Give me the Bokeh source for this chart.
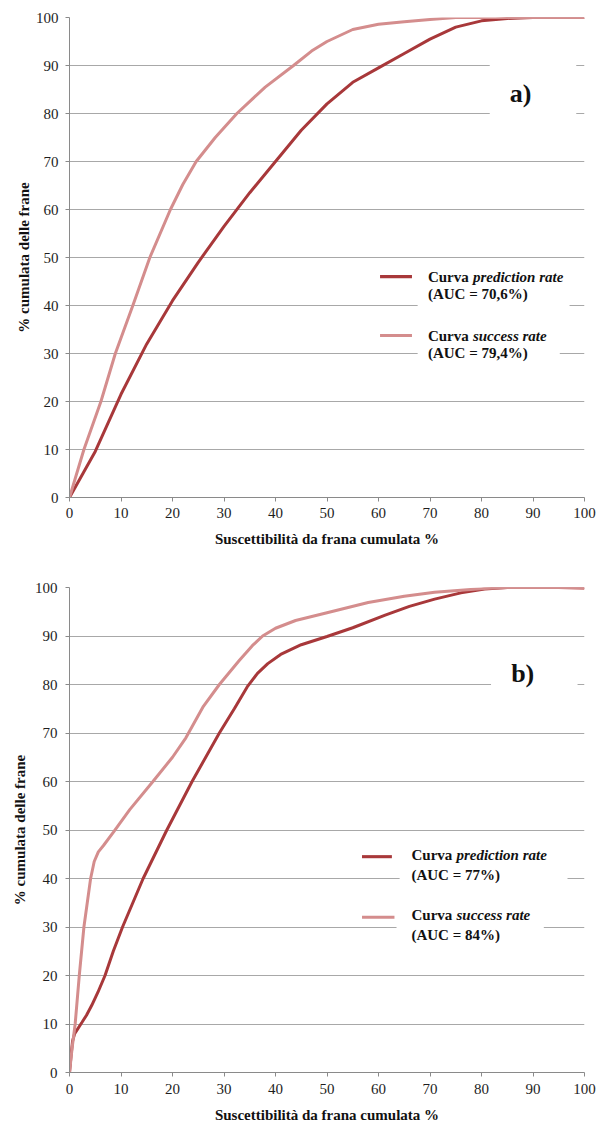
from bokeh.plotting import figure
from bokeh.layouts import column
from bokeh.models import Label, BoxAnnotation, FixedTicker, Range1d
from bokeh.embed import file_html
from bokeh.resources import INLINE

# ---------------- data ----------------
ticks = [0, 10, 20, 30, 40, 50, 60, 70, 80, 90, 100]

# panel a)
a_pred_x = [0, 5, 10, 15, 20, 25, 30, 35, 40, 45, 50, 55, 60, 65, 70, 75, 80, 85, 90, 100]
a_pred_y = [0, 9.6, 21.5, 32, 41, 49, 56.5, 63.5, 70, 76.5, 82, 86.5, 89.5, 92.5, 95.5, 98, 99.3, 99.8, 100, 100]
a_succ_x = [0, 2.8, 6.1, 8.9, 12.3, 15.6, 19.6, 22, 24.6, 28.3, 32.5, 38, 43.5, 47, 50, 55, 60, 65, 70, 75, 100]
a_succ_y = [0, 10, 20, 30, 40, 50, 60, 65.2, 70, 75, 80, 85.5, 90, 93, 95, 97.5, 98.6, 99.1, 99.6, 100, 100]

# panel b)
b_pred_x = [0, 0.3, 0.6, 1.0, 1.6, 2.4, 3.3, 4.3, 5.5, 6.9, 8.5, 10.3, 14.3, 18.9, 23.8, 29.1,
            32, 34.5, 36.5, 38.5, 41, 45, 50, 55, 61.3, 66, 70.9, 76, 80.6, 85, 100]
b_pred_y = [0, 3.5, 6.5, 8.0, 9.0, 10.3, 11.8, 13.8, 16.5, 20, 25, 30, 40, 50, 60, 70,
            75, 79.5, 82.3, 84.3, 86.2, 88.2, 89.9, 91.7, 94.3, 96.1, 97.6, 98.9, 99.7, 100, 100]
b_succ_x = [0, 0.5, 1.1, 1.9, 2.8, 4.1, 4.8, 5.6, 6.6, 8.5, 11.7, 16.2, 20, 22.6, 26, 29.1, 33,
            35.5, 37.5, 40, 43.9, 50, 58, 65, 70.9, 80.5, 85, 95, 100]
b_succ_y = [0, 5, 10, 20, 30, 40, 43.5, 45.5, 46.8, 49.5, 54.2, 60, 65, 69, 75.5, 80, 85,
            88, 90, 91.6, 93.2, 94.8, 96.9, 98.2, 99.0, 99.8, 100, 100, 99.8]

labels_a = ["Curva ", "prediction rate", "(AUC = 70,6%)", "success rate", "(AUC = 79,4%)"]
labels_b = ["Curva ", "prediction rate", "(AUC = 77%)", "success rate", "(AUC = 84%)"]
x_title = "Suscettibilità da frana cumulata %"
y_title = "% cumulata delle frane"

DARK = "#a8383a"
LIGHT = "#d48d8d"
GRID = "#a8a8a8"
AXIS = "#8a8a8a"
SERIF = "Liberation Serif"


def make_fig(height, b_top, b_bottom, b_left, b_right):
    p = figure(width=597, height=height, x_range=Range1d(0, 100), y_range=Range1d(0, 100),
               output_backend="svg", toolbar_location=None,
               min_border_top=b_top, min_border_bottom=b_bottom,
               min_border_left=b_left, min_border_right=b_right)
    p.outline_line_color = None
    p.background_fill_color = "white"
    p.xgrid.visible = False
    p.ygrid.grid_line_color = GRID
    p.ygrid.grid_line_width = 1
    p.ygrid.ticker = FixedTicker(ticks=ticks)
    for ax in (p.xaxis, p.yaxis):
        ax.ticker = FixedTicker(ticks=ticks)
        ax.axis_line_color = AXIS
        ax.major_tick_line_color = AXIS
        ax.minor_tick_line_color = None
        ax.major_tick_in = 0
        ax.major_tick_out = 4
        ax.major_label_text_font = SERIF
        ax.major_label_text_font_size = "15px"
        ax.major_label_text_color = "#1e1e1e"
        ax.axis_label_text_font = SERIF
        ax.axis_label_text_font_style = "bold"
        ax.axis_label_text_font_size = "15px"
        ax.axis_label_text_color = "#111111"
    p.xaxis.axis_label = x_title
    p.yaxis.axis_label = y_title
    return p


def add_label(p, x, y, text, size="15px", style="bold", x_offset=0, align="left"):
    p.add_layout(Label(x=x, y=y, text=text, text_font=SERIF, text_font_size=size,
                       text_font_style=style, text_color="#111111", text_baseline="middle",
                       text_align=align, x_offset=x_offset))


def white_box(p, l, r, b, t):
    p.add_layout(BoxAnnotation(left=l, right=r, bottom=b, top=t, fill_color="white",
                               fill_alpha=1.0, line_color=None, level="underlay"))


def sample(p, l, r, y, color, h):
    p.add_layout(BoxAnnotation(left=l, right=r, bottom=y - h, top=y + h, fill_color=color,
                               fill_alpha=1.0, line_color=None))


# ---------------- panel a ----------------
p1 = make_fig(553, 17, 56, 69, 12)
p1.xaxis.major_label_standoff = 6
p1.xaxis.axis_label_standoff = 10
p1.yaxis.major_label_standoff = 7
p1.yaxis.axis_label_standoff = 1

white_box(p1, 81.6, 98.4, 78.5, 92.1)
white_box(p1, 67.6, 97.1, 39.0, 49.0)
white_box(p1, 67.6, 95.2, 27.7, 36.5)

p1.line(a_pred_x, a_pred_y, line_color=DARK, line_width=3)
p1.line(a_succ_x, a_succ_y, line_color=LIGHT, line_width=3)

sample(p1, 60.3, 66.5, 46.0, DARK, 0.33)
sample(p1, 60.3, 66.5, 33.75, LIGHT, 0.33)
add_label(p1, 69.6, 46.0, labels_a[0])
add_label(p1, 69.6, 46.0, labels_a[1], style="bold italic", x_offset=45)
add_label(p1, 69.6, 42.3, labels_a[2])
add_label(p1, 69.6, 33.75, labels_a[0])
add_label(p1, 69.6, 33.75, labels_a[3], style="bold italic", x_offset=45)
add_label(p1, 69.6, 30.2, labels_a[4])
add_label(p1, 87.6, 84.2, "a)", size="26px", align="center")

# ---------------- panel b ----------------
p2 = make_fig(572, 34, 50, 66, 13)
p2.xaxis.major_label_standoff = 7
p2.xaxis.axis_label_standoff = 10
p2.yaxis.major_label_standoff = 8
p2.yaxis.axis_label_standoff = 4

white_box(p2, 81.85, 98.65, 76.8, 87.1)
white_box(p2, 64.1, 96.7, 37.9, 47.75)
white_box(p2, 63.5, 92.1, 25.6, 34.85)

p2.line(b_pred_x, b_pred_y, line_color=DARK, line_width=3)
p2.line(b_succ_x, b_succ_y, line_color=LIGHT, line_width=3)

sample(p2, 56.8, 62.6, 44.5, DARK, 0.32)
sample(p2, 56.8, 63.1, 32.0, LIGHT, 0.32)
add_label(p2, 66.4, 44.9, labels_b[0])
add_label(p2, 66.4, 44.9, labels_b[1], style="bold italic", x_offset=45)
add_label(p2, 66.4, 40.8, labels_b[2])
add_label(p2, 66.4, 32.4, labels_b[0])
add_label(p2, 66.4, 32.4, labels_b[3], style="bold italic", x_offset=45)
add_label(p2, 66.4, 28.3, labels_b[4])
add_label(p2, 88.0, 82.2, "b)", size="26px", align="center")

layout = column(p1, p2, spacing=0)
open("out.html", "w").write(file_html(layout, INLINE))
